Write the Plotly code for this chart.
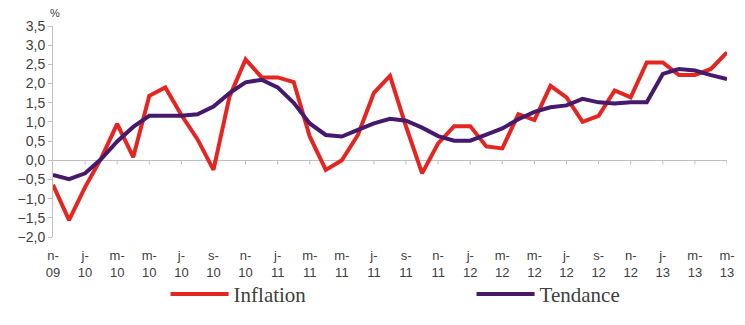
import plotly.graph_objects as go

months = ["2009-11", "2009-12"] + [f"{y}-{m:02d}" for y in (2010, 2011, 2012) for m in range(1, 13)] + [f"2013-{m:02d}" for m in range(1, 6)]

inflation = [-0.64, -1.56, -0.70, 0.05, 0.95, 0.08, 1.68, 1.90, 1.18, 0.55, -0.25, 1.66, 2.63,
             2.16, 2.16, 2.04, 0.62, -0.25, 0.00, 0.66, 1.76, 2.20, 0.88, -0.34, 0.44, 0.89,
             0.89, 0.36, 0.31, 1.20, 1.05, 1.94, 1.64, 1.00, 1.16, 1.82, 1.64, 2.55, 2.55,
             2.22, 2.22, 2.38, 2.81]
tendance = [-0.38, -0.49, -0.34, 0.03, 0.49, 0.87, 1.16, 1.16, 1.16, 1.20, 1.40, 1.75, 2.03,
            2.10, 1.90, 1.50, 0.96, 0.66, 0.62, 0.79, 0.96, 1.08, 1.03, 0.85, 0.63, 0.51,
            0.51, 0.67, 0.83, 1.07, 1.26, 1.38, 1.43, 1.60, 1.51, 1.48, 1.51, 1.51, 2.25,
            2.38, 2.34, 2.22, 2.12]

mois_abbr = {1: "j", 3: "m", 5: "m", 7: "j", 9: "s", 11: "n"}
tick_vals = months[::2]
tick_text = [f"{mois_abbr[int(m[5:])]}-<br>{m[2:4]}" for m in tick_vals]

RED = "#E42521"
PURPLE = "#45196B"
GRAY_TXT = "#404040"
AXIS = "#BFBFBF"

fig = go.Figure()
fig.add_trace(go.Scatter(x=months, y=inflation, mode="lines", name="Inflation",
                         line=dict(color=RED, width=4), legend="legend"))
fig.add_trace(go.Scatter(x=months, y=tendance, mode="lines", name="Tendance",
                         line=dict(color=PURPLE, width=4), legend="legend2"))

# small tick marks on the zero line at each labelled month
for m in tick_vals[1:]:
    fig.add_shape(type="line", xref="x", yref="y", x0=m, x1=m, y0=0, y1=-0.11,
                  line=dict(color=AXIS, width=1), layer="below")

legend_font = dict(family="Liberation Serif", size=21, color=GRAY_TXT)
# the page body has an 8px margin, so the figure is 8px smaller than the window
fig.update_layout(
    width=737, height=317,
    margin=dict(l=45, r=10, t=18, b=88),
    paper_bgcolor="white", plot_bgcolor="white",
    separators=", ",
    showlegend=True,
    legend=dict(orientation="h", x=0.167, xanchor="left", y=-0.175, yanchor="top",
                itemwidth=58, font=legend_font, bgcolor="rgba(0,0,0,0)"),
    legend2=dict(orientation="h", x=0.621, xanchor="left", y=-0.175, yanchor="top",
                 itemwidth=58, font=legend_font, bgcolor="rgba(0,0,0,0)"),
    xaxis=dict(type="category", range=[0, len(months) - 1], tickmode="array",
               tickvals=tick_vals, ticktext=tick_text, showgrid=False, showline=False,
               zeroline=False, ticks="", ticklabelstandoff=9,
               tickfont=dict(family="Liberation Sans", size=13, color=GRAY_TXT)),
    yaxis=dict(range=[-2, 3.5], dtick=0.5, tick0=0, tickformat=".1f", showgrid=False,
               showline=True, linecolor=AXIS, linewidth=1, ticks="outside", ticklen=4,
               tickcolor=AXIS, zeroline=True, zerolinecolor=AXIS, zerolinewidth=1,
               tickfont=dict(family="Liberation Sans", size=14, color=GRAY_TXT)),
    annotations=[dict(text="%", xref="paper", yref="paper", x=0.0, y=1.0, xanchor="center",
                      yanchor="bottom", showarrow=False, xshift=2, yshift=5,
                      font=dict(family="Liberation Sans", size=11, color=GRAY_TXT))],
)

fig.write_html("out.html")
